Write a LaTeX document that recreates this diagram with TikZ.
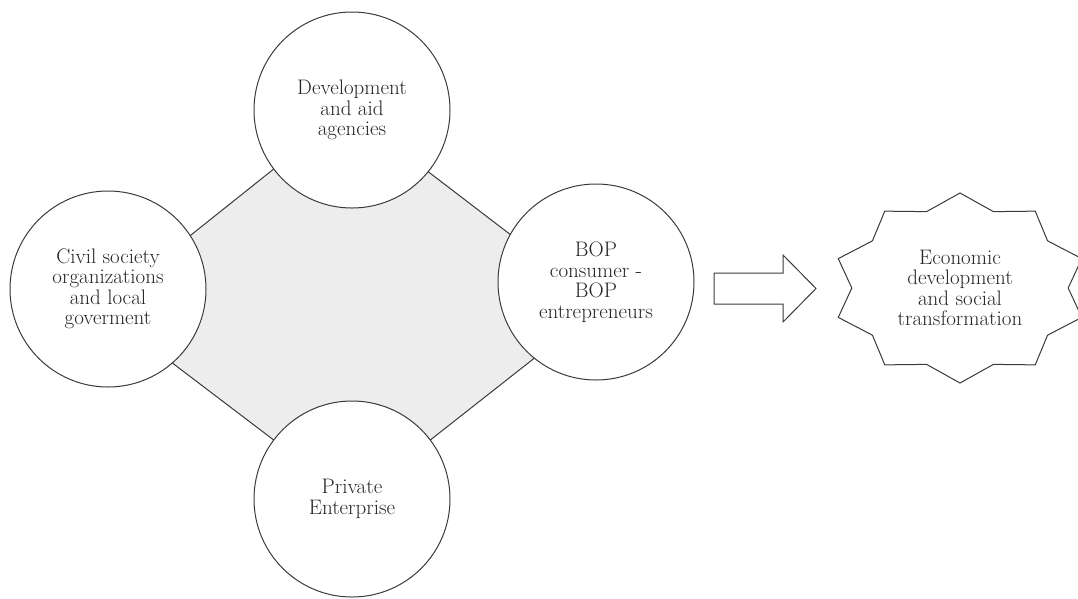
\documentclass[tikz,border=0pt]{standalone}
\usepackage{fontspec}
\usetikzlibrary{backgrounds}
\definecolor{linegray}{HTML}{3A3A3A}
\definecolor{fillgray}{HTML}{EDEDED}
\definecolor{textgray}{HTML}{262626}
\tikzset{
  actor/.style={circle, draw=linegray, line width=1pt, fill=white, minimum size=196pt, inner sep=0pt, outer sep=0pt,
    align=center, text=textgray, font=\fontsize{21}{20.5}\selectfont},
  link/.style={draw=linegray, line width=1pt},
  label/.style={align=center, text=textgray, font=\fontsize{21}{20.5}\selectfont, inner sep=0pt},
  shapeline/.style={draw=linegray, line width=1pt, line join=miter}
}
\begin{document}
\begin{tikzpicture}[x=1pt, y=-1pt]
\useasboundingbox (0,0) rectangle (1078,598);
% actors
\node[actor] (top) at (352,110) {Development\\and aid\\agencies};
\node[actor] (left) at (108,289) {Civil society\\organizations\\and local\\goverment};
\node[actor] (right) at (596,282) {BOP\\consumer -\\BOP\\entrepreneurs};
\node[actor] (bot) at (352,499) {Private\\Enterprise};
% grey field behind circles
\begin{scope}[on background layer]
\fill[fillgray] (top.217.5) -- (left.33.2) -- (left.311.2) -- (bot.143.5) -- (bot.37.7)
  -- (right.231.7) -- (right.151.1) -- (top.321.8) -- cycle;
\end{scope}
\draw[link] (top.217.5) -- (left.33.2);
\draw[link] (left.311.2) -- (bot.143.5);
\draw[link] (bot.37.7) -- (right.231.7);
\draw[link] (right.151.1) -- (top.321.8);
% block arrow
\draw[shapeline] (714,273) -- (783,273) -- (783,255) -- (816,288.5) -- (783,322) -- (783,304) -- (714,304) -- cycle;
% 10-point star
\draw[shapeline] (960,193) \foreach \k in {0,...,9} {
  -- ({960+108.2*cos(108+36*\k)},{288-80.3*sin(108+36*\k)})
  -- ({960+128*cos(126+36*\k)},{288-95*sin(126+36*\k)}) } -- cycle;
\node[label] (goal) at (960,288) {Economic\\development\\and social\\transformation};
\end{tikzpicture}
\end{document}
